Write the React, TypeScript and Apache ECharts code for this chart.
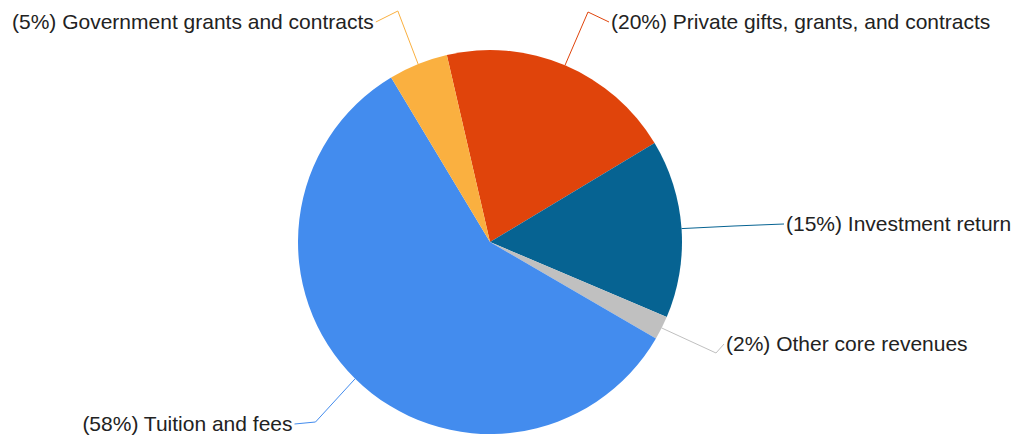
import React, { useEffect, useRef } from "react";
import * as echarts from "echarts";

const categories = [
  "Private gifts, grants, and contracts",
  "Investment return",
  "Other core revenues",
  "Tuition and fees",
  "Government grants and contracts",
];
const shares = [20, 15, 2, 58, 5];
const colors = ["#E0440B", "#066392", "#C0C0C0", "#438CEE", "#FAB040"];
// label anchor positions (left x, middle y)
const labelSpots: [number, number][] = [
  [611, 21],
  [786, 223],
  [726, 343],
  [82, 423],
  [12, 21],
];
// leader line bend offsets relative to label connection point
const bendOffsets: [number, number][] = [
  [-21, -10],
  [-50, 2],
  [-8, 9],
  [21, -2],
  [22, -11],
];

export default function App() {
  const ref = useRef<HTMLDivElement>(null);
  useEffect(() => {
    if (!ref.current) return;
    const chart = echarts.init(ref.current, undefined, { renderer: "svg" });
    chart.setOption({
      animation: false,
      series: [
        {
          type: "pie",
          center: [490, 242],
          radius: 192,
          startAngle: 103,
          clockwise: true,
          percentPrecision: 0,
          data: categories.map((name, i) => ({
            name,
            value: shares[i],
            itemStyle: { color: colors[i] },
          })),
          label: {
            show: true,
            position: "outside",
            formatter: "({d}%) {b}",
            fontFamily: "Liberation Sans",
            fontSize: 21,
            color: "#222",
          },
          labelLine: {
            show: true,
            length: 20,
            length2: 20,
            lineStyle: { width: 1 },
          },
          labelLayout: (params: any) => {
            const i = params.dataIndex;
            const s = labelSpots[i];
            const isLeft = i === 3 || i === 4;
            const w = params.labelRect.width;
            const connX = isLeft ? s[0] + w + 2 : s[0] - 2;
            const connY = s[1] + 1;
            const edge = params.labelLinePoints
              ? params.labelLinePoints[0]
              : [connX, connY];
            const b = bendOffsets[i];
            return {
              x: isLeft ? s[0] + w : s[0],
              y: s[1],
              align: isLeft ? "right" : "left",
              verticalAlign: "middle",
              labelLinePoints: [
                [edge[0], edge[1]],
                [connX + b[0], connY + b[1]],
                [connX, connY],
              ],
            };
          },
          emphasis: { disabled: true },
        },
      ],
    });
    return () => chart.dispose();
  }, []);
  return (
    <div
      ref={ref}
      style={{ position: "fixed", left: 0, top: 0, width: 1015, height: 440, background: "#fff" }}
    />
  );
}
